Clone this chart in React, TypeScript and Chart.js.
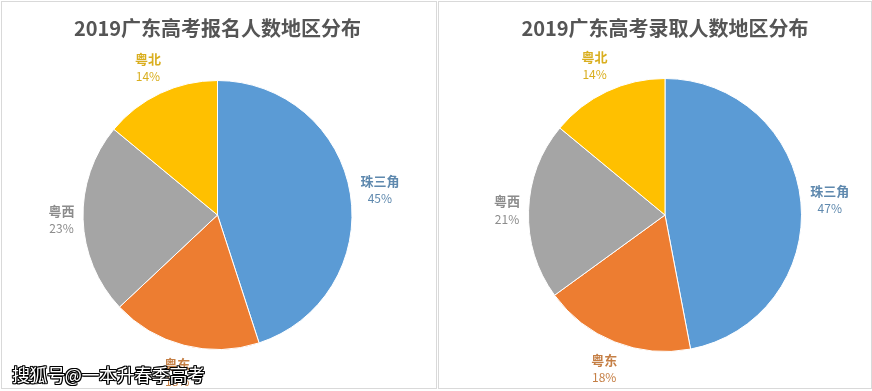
import React, { useEffect, useRef } from "react";
import { Chart, registerables } from "chart.js";

Chart.register(...registerables);

const categories = ["珠三角", "粤东", "粤西", "粤北"];
const applicantShares = [45, 18, 23, 14];
const admittedShares = [47, 18, 21, 14];
const titleApplicants = "2019广东高考报名人数地区分布";
const titleAdmitted = "2019广东高考录取人数地区分布";
const sliceColors = ["#5B9BD5", "#ED7D31", "#A5A5A5", "#FFC000"];
const labelColors = ["#5F89AE", "#C57F45", "#8C8C8C", "#D9AE1E"];
const watermark = "搜狐号@一本升春季高考";

const FONT = '"Noto Sans CJK SC", "Noto Sans", sans-serif';

const outLabels = {
  id: "outLabels",
  afterDatasetsDraw(chart: any) {
    const ctx = chart.ctx;
    const meta = chart.getDatasetMeta(0);
    const data: number[] = chart.data.datasets[0].data;
    const total = data.reduce((a, b) => a + b, 0);
    const labels: string[] = chart.data.labels;
    const colors: string[] = chart.options.plugins.outLabels.colors;
    const gap: number = chart.options.plugins.outLabels.gap;
    meta.data.forEach((arc: any, i: number) => {
      const p = arc.getProps(["x", "y", "startAngle", "endAngle", "outerRadius"], true);
      const mid = (p.startAngle + p.endAngle) / 2;
      const c = Math.cos(mid);
      const s = Math.sin(mid);
      const name = labels[i];
      const pct = Math.round((data[i] / total) * 100) + "%";
      ctx.save();
      ctx.font = `bold 13px ${FONT}`;
      const w1 = ctx.measureText(name).width;
      ctx.font = `12px ${FONT}`;
      const w2 = ctx.measureText(pct).width;
      const hw = Math.max(w1, w2) / 2;
      const hh = 17;
      const d = p.outerRadius + gap + Math.abs(c) * hw + Math.abs(s) * hh;
      const cx = p.x + c * d;
      const cy = p.y + s * d;
      ctx.fillStyle = colors[i];
      ctx.textAlign = "center";
      ctx.textBaseline = "middle";
      ctx.font = `bold 13px ${FONT}`;
      ctx.fillText(name, cx, cy - 8.5);
      ctx.font = `12px ${FONT}`;
      ctx.fillText(pct, cx, cy + 9);
      ctx.restore();
    });
  },
};

type BoxProps = {
  left: number;
  width: number;
  title: string;
  values: number[];
  padLeft: number;
  padRight: number;
  titleBottom: number;
  padBottom: number;
};

function PieBox(props: BoxProps) {
  const ref = useRef<HTMLCanvasElement | null>(null);
  useEffect(() => {
    if (!ref.current) return;
    const chart = new Chart(ref.current, {
      type: "pie",
      data: {
        labels: categories,
        datasets: [
          {
            data: props.values,
            backgroundColor: sliceColors,
            borderColor: "#FFFFFF",
            borderWidth: 1,
            hoverOffset: 0,
          },
        ],
      },
      options: {
        responsive: false,
        animation: false,
        events: [],
        layout: {
          padding: { top: 0, left: props.padLeft, right: props.padRight, bottom: props.padBottom },
        },
        plugins: {
          legend: { display: false },
          tooltip: { enabled: false },
          title: {
            display: true,
            text: props.title,
            color: "#555555",
            font: { family: FONT, size: 20, weight: "bold" },
            padding: { top: 14, bottom: props.titleBottom },
          },
          outLabels: { colors: labelColors, gap: 8 },
        } as any,
      },
      plugins: [outLabels],
    });
    return () => chart.destroy();
  }, []);
  return (
    <div
      style={{
        position: "absolute",
        left: props.left,
        top: 1,
        width: props.width,
        height: 388,
        border: "1px solid #D9D9D9",
        boxSizing: "border-box",
        background: "#FFFFFF",
      }}
    >
      <canvas
        ref={ref}
        width={props.width - 2}
        height={386}
        style={{ display: "block", width: props.width - 2, height: 386 }}
      />
    </div>
  );
}

export default function App() {
  return (
    <div
      style={{
        position: "fixed",
        left: 0,
        top: 0,
        width: 872,
        height: 391,
        background: "#FFFFFF",
        overflow: "hidden",
        fontFamily: FONT,
      }}
    >
      <PieBox
        left={1}
        width={436}
        title={titleApplicants}
        values={applicantShares}
        padLeft={0}
        padRight={3}
        titleBottom={40}
        padBottom={38}
      />
      <PieBox
        left={438}
        width={434}
        title={titleAdmitted}
        values={admittedShares}
        padLeft={20}
        padRight={0}
        titleBottom={38}
        padBottom={36}
      />
      <div
        style={{
          position: "absolute",
          left: 12,
          top: 361,
          fontSize: 18,
          lineHeight: "26px",
          letterSpacing: "-0.4px",
          color: "#FFFFFF",
          fontFamily: FONT,
          whiteSpace: "nowrap",
          textShadow:
            "1px 0 0 #000, -1px 0 0 #000, 0 1px 0 #000, 0 -1px 0 #000, 1px 1px 0 #000, -1px -1px 0 #000, 1px -1px 0 #000, -1px 1px 0 #000",
        }}
      >
        {watermark}
      </div>
    </div>
  );
}
